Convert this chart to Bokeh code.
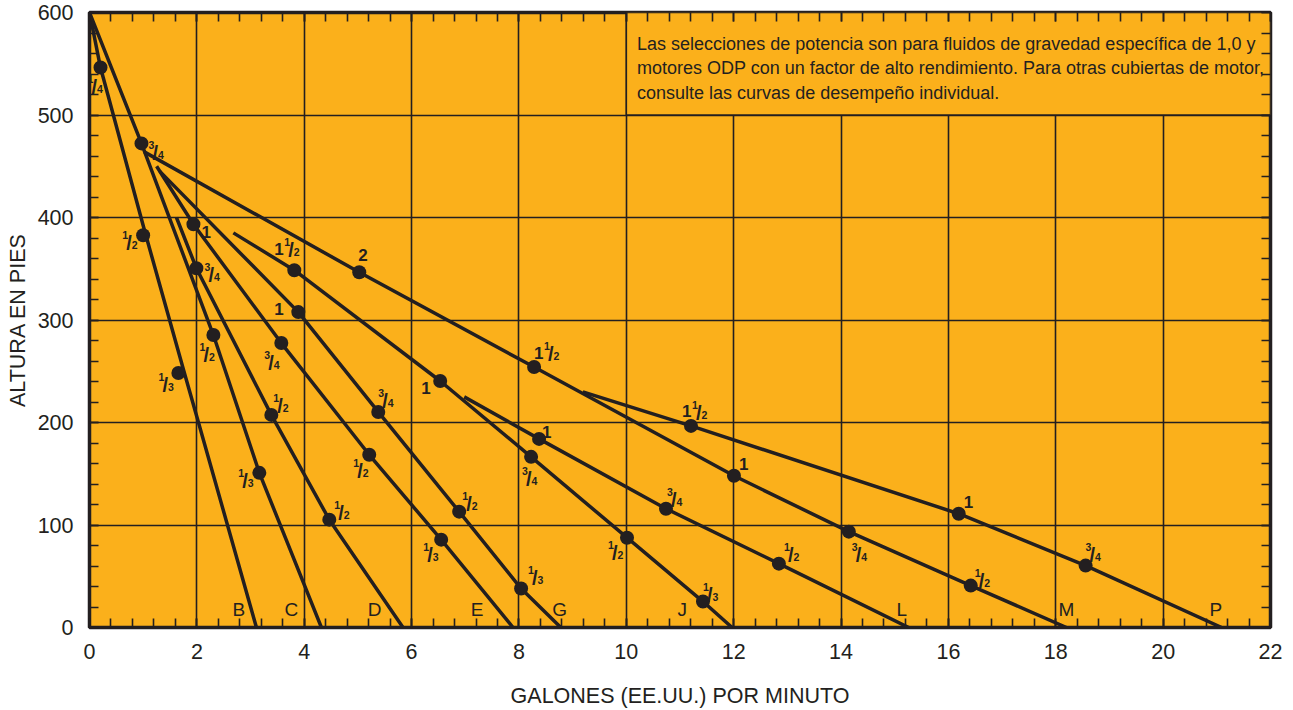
from bokeh.plotting import figure
from bokeh.models import ColumnDataSource, LinearAxis, Range1d, SingleIntervalTicker
from bokeh.core.properties import value
from bokeh.embed import file_html
from bokeh.resources import INLINE

# ---------------- data ----------------
x_tick_values = [0, 2, 4, 6, 8, 10, 12, 14, 16, 18, 20, 22]
y_tick_values = [0, 100, 200, 300, 400, 500, 600]

curve_names = ["B", "C", "D", "E", "G", "J", "L", "M", "P"]

curve_B_gpm = [0, 0.205, 1.024, 1.768, 2.03, 3.11]
curve_B_ft = [600, 546.3, 387.5, 248.3, 200, 0]
curve_C_gpm = [0, 0.968, 2.308, 3.164, 4.32]
curve_C_ft = [600, 472.3, 285.3, 150.9, 0]
curve_D_gpm = [1.62, 1.991, 3.387, 4.467, 5.84]
curve_D_ft = [400, 350.5, 207.4, 105.2, 0]
curve_E_gpm = [1.25, 1.936, 3.573, 5.211, 6.551, 7.89]
curve_E_ft = [450, 393.4, 277.5, 168.5, 85.7, 0]
curve_G_gpm = [1.31, 3.890, 5.379, 6.886, 8.040, 8.78]
curve_G_ft = [445, 307.7, 210.3, 113.0, 38.0, 0]
curve_J_gpm = [2.68, 3.815, 6.533, 8.226, 10.013, 11.428, 11.97]
curve_J_ft = [385, 348.6, 240.5, 166.5, 87.6, 25.3, 0]
curve_L_gpm = [6.98, 8.375, 10.739, 12.842, 15.26]
curve_L_ft = [225, 184.0, 115.9, 62.3, 0]
curve_M_gpm = [1.02, 5.025, 8.282, 12.005, 14.145, 16.416, 18.2]
curve_M_ft = [464, 346.6, 254.1, 148.0, 93.5, 40.9, 0]
curve_P_gpm = [9.19, 11.205, 16.192, 18.556, 21.09]
curve_P_ft = [229.8, 196.7, 111.0, 60.4, 0]

# horsepower change points
dot_gpm = [0.205, 0.999, 1.656,
           0.968, 2.308, 3.164,
           1.991, 3.387, 4.467,
           1.936, 3.573, 5.211, 6.551,
           3.890, 5.379, 6.886, 8.040,
           3.815, 6.533, 8.226, 10.013, 11.428,
           8.375, 10.739, 12.842,
           5.025, 8.282, 12.005, 14.145, 16.416,
           11.205, 16.192, 18.556]
dot_ft = [546.3, 382.7, 248.3,
          472.3, 285.3, 150.9,
          350.5, 207.4, 105.2,
          393.4, 277.5, 168.5, 85.7,
          307.7, 210.3, 113.0, 38.0,
          348.6, 240.5, 166.5, 87.6, 25.3,
          184.0, 115.9, 62.3,
          346.6, 254.1, 148.0, 93.5, 40.9,
          196.7, 111.0, 60.4]
dot_hp = ["1/4", "1/2", "1/3",
          "3/4", "1/2", "1/3",
          "3/4", "1/2", "1/2",
          "1", "3/4", "1/2", "1/3",
          "1", "3/4", "1/2", "1/3",
          "1 1/2", "1", "3/4", "1/2", "1/3",
          "1", "3/4", "1/2",
          "2", "1 1/2", "1", "3/4", "1/2",
          "1 1/2", "1", "3/4"]

curve_label_gpm = [2.78, 3.76, 5.31, 7.22, 8.76, 11.04, 15.13, 18.2, 20.98]

note_lines = [
    "Las selecciones de potencia son para fluidos de gravedad específica de 1,0 y",
    "motores ODP con un factor de alto rendimiento. Para otras cubiertas de motor,",
    "consulte las curvas de desempeño individual.",
]

x_title = "GALONES (EE.UU.) POR MINUTO"
y_title = "ALTURA EN PIES"

# ---------------- placement / style ----------------
# label anchor (left, baseline) relative to its dot, in screen pixels
hp_label_offset_px = [(-13, 24), (-21, 13), (-20, 17),
                      (7, 15), (-14, 25), (-21, 13),
                      (8, 12), (2, -4), (5, -2),
                      (8, 13), (-17, 25), (-16, 21), (-18, 20),
                      (-24, 2), (0, -6), (3, -3), (7, -6),
                      (-20, -15), (-19, 12), (-9, 27), (-19, 20), (0, -2),
                      (3, -2), (1, -4), (5, -4),
                      (-1, -12), (0, -8), (5, -7), (3, 28), (4, 0),
                      (-9, -8), (5, -7), (0, -6)]
TEXT_SHIFT = -5   # svg text sits a little low; lift it

FONT = "Liberation Sans"
BG = "#FBB01B"
INK = "#231F20"
note_box = dict(left=10, right=22, bottom=500, top=600)
note_anchor = (10.2, 564.8)
note_line_step_px = 24.5

p = figure(width=1293, height=710, x_range=Range1d(0, 22), y_range=Range1d(0, 600),
           output_backend="svg", toolbar_location=None,
           min_border_left=89, min_border_right=23, min_border_top=12, min_border_bottom=83,
           background_fill_color=BG, border_fill_color="white",
           outline_line_color=INK, outline_line_width=3.5)

xt = SingleIntervalTicker(interval=2, num_minor_ticks=5)
yt = SingleIntervalTicker(interval=100, num_minor_ticks=5)
p.xaxis.ticker = xt
p.yaxis.ticker = yt
p.xgrid.ticker = xt
p.ygrid.ticker = yt
p.grid.grid_line_color = INK
p.grid.grid_line_width = 1.6
p.xaxis.axis_label = x_title
p.yaxis.axis_label = y_title


def style_axis(ax, labels=True):
    ax.axis_line_color = None
    ax.major_tick_in = 9
    ax.major_tick_out = 0
    ax.minor_tick_in = 9
    ax.minor_tick_out = 0
    ax.major_tick_line_color = INK
    ax.minor_tick_line_color = INK
    ax.major_tick_line_width = 1.6
    ax.minor_tick_line_width = 1.6
    ax.major_label_text_font = FONT
    if labels:
        ax.major_label_text_color = INK
        ax.major_label_text_font_size = "21.5px"
        ax.axis_label_text_font = FONT
        ax.axis_label_text_font_size = "21.5px"
        ax.axis_label_text_font_style = "normal"
        ax.axis_label_text_color = INK
    else:
        ax.major_label_text_color = None
        ax.major_label_text_font_size = "1px"
        ax.major_label_standoff = 0


style_axis(p.xaxis[0])
style_axis(p.yaxis[0])
p.xaxis.major_label_standoff = 16
p.yaxis.major_label_standoff = 16
p.xaxis.axis_label_standoff = 22
p.yaxis.axis_label_standoff = 5

ax_r = LinearAxis(ticker=yt)
style_axis(ax_r, labels=False)
p.add_layout(ax_r, "right")
ax_t = LinearAxis(ticker=xt)
style_axis(ax_t, labels=False)
p.add_layout(ax_t, "above")

# note box
p.quad(left=[note_box["left"]], right=[note_box["right"]], bottom=[note_box["bottom"]],
       top=[note_box["top"]], fill_color=BG, line_color=INK, line_width=1.6)
p.text(x=[note_anchor[0]] * 3, y=[note_anchor[1]] * 3, text=note_lines,
       y_offset=[TEXT_SHIFT + k * note_line_step_px for k in range(3)],
       text_font=value(FONT), text_font_size="18px", text_color=INK,
       text_align="left", text_baseline="alphabetic")

# curves
curves_x = [curve_B_gpm, curve_C_gpm, curve_D_gpm, curve_E_gpm, curve_G_gpm,
            curve_J_gpm, curve_L_gpm, curve_M_gpm, curve_P_gpm]
curves_y = [curve_B_ft, curve_C_ft, curve_D_ft, curve_E_ft, curve_G_ft,
            curve_J_ft, curve_L_ft, curve_M_ft, curve_P_ft]
p.multi_line(xs=curves_x, ys=curves_y, line_color=INK, line_width=3.5,
             line_join="round", line_cap="butt")

p.scatter(x=dot_gpm, y=dot_ft, size=14, marker="circle", fill_color=INK, line_color=None)

# horsepower labels built from pieces
big = dict(x=[], y=[], t=[], xo=[], yo=[])
small = dict(x=[], y=[], t=[], xo=[], yo=[])
slash = dict(x=[], y=[], t=[], xo=[], yo=[])


def add(d, x, y, t, xo, yo):
    d["x"].append(x); d["y"].append(y); d["t"].append(t)
    d["xo"].append(xo); d["yo"].append(yo + TEXT_SHIFT)


for x, y, lab, (dx, dy) in zip(dot_gpm, dot_ft, dot_hp, hp_label_offset_px):
    if " " in lab:
        whole, frac = lab.split(" ")
    elif "/" in lab:
        whole, frac = None, lab
    else:
        whole, frac = lab, None
    ox = dx
    if whole:
        add(big, x, y, whole, ox, dy - (1.5 if frac else 0))
        ox += 10
    if frac:
        n, d = frac.split("/")
        add(small, x, y, n, ox, dy - 8)
        add(slash, x, y, "/", ox + 4, dy)
        add(small, x, y, d, ox + 9.5, dy + 2)

for d, fs in [(big, "17px"), (small, "10.5px"), (slash, "20px")]:
    src = ColumnDataSource(d)
    p.text(x="x", y="y", text="t", x_offset="xo", y_offset="yo", source=src,
           text_font=value(FONT), text_font_style="bold", text_font_size=fs,
           text_color=INK, text_align="left", text_baseline="alphabetic")

# pump curve letters
p.text(x=curve_label_gpm, y=[0] * len(curve_label_gpm), text=curve_names,
       y_offset=-13 + TEXT_SHIFT,
       text_font=value(FONT), text_font_size="19px", text_color=INK,
       text_align="center", text_baseline="alphabetic")

open("out.html", "w").write(file_html(p, INLINE, title="chart"))
